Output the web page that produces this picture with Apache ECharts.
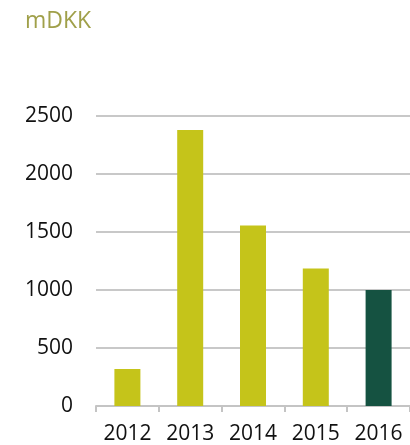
<!DOCTYPE html>
<html>
<head>
<meta charset="utf-8">
<script src="https://cdn.jsdelivr.net/npm/echarts@6/dist/echarts.min.js"></script>
<style>
  html, body { margin: 0; padding: 0; background: #fff; }
  #chart { width: 410px; height: 445px; }
</style>
</head>
<body>
<div id="chart"></div>
<script>
const years = ['2012', '2013', '2014', '2015', '2016']
const values = [320, 2380, 1555, 1185, 1000]
const barColors = ['#c5c41a', '#c5c41a', '#c5c41a', '#c5c41a', '#155241']

const chart = echarts.init(document.getElementById('chart'))
chart.setOption({
  animation: false,
  textStyle: { fontFamily: 'Open Sans' },
  title: {
    text: 'mDKK',
    left: 20,
    top: 5,
    textStyle: { color: '#a0a04a', fontSize: 23, fontWeight: 'normal', fontFamily: 'Open Sans' },
  },
  grid: { left: 96, top: 116, width: 320, height: 291, containLabel: false },
  xAxis: {
    type: 'category',
    data: years,
    axisLine: { lineStyle: { color: '#c4c4c4', width: 2 } },
    axisTick: { show: true, length: 6, lineStyle: { color: '#c4c4c4', width: 2 } },
    axisLabel: { color: '#111', fontSize: 21, margin: 18 },
  },
  yAxis: {
    type: 'value',
    min: 0,
    max: 2500,
    interval: 500,
    axisLine: { show: false },
    axisTick: { show: false },
    axisLabel: { color: '#111', fontSize: 21, margin: 23, formatter: (v) => String(v) },
    splitLine: { lineStyle: { color: '#c8c8c8', width: 2 } },
  },
  series: [
    {
      type: 'bar',
      barWidth: 26,
      data: values.map((v, i) => ({ value: v, itemStyle: { color: barColors[i] } })),
    },
  ],
})
</script>
</body>
</html>
